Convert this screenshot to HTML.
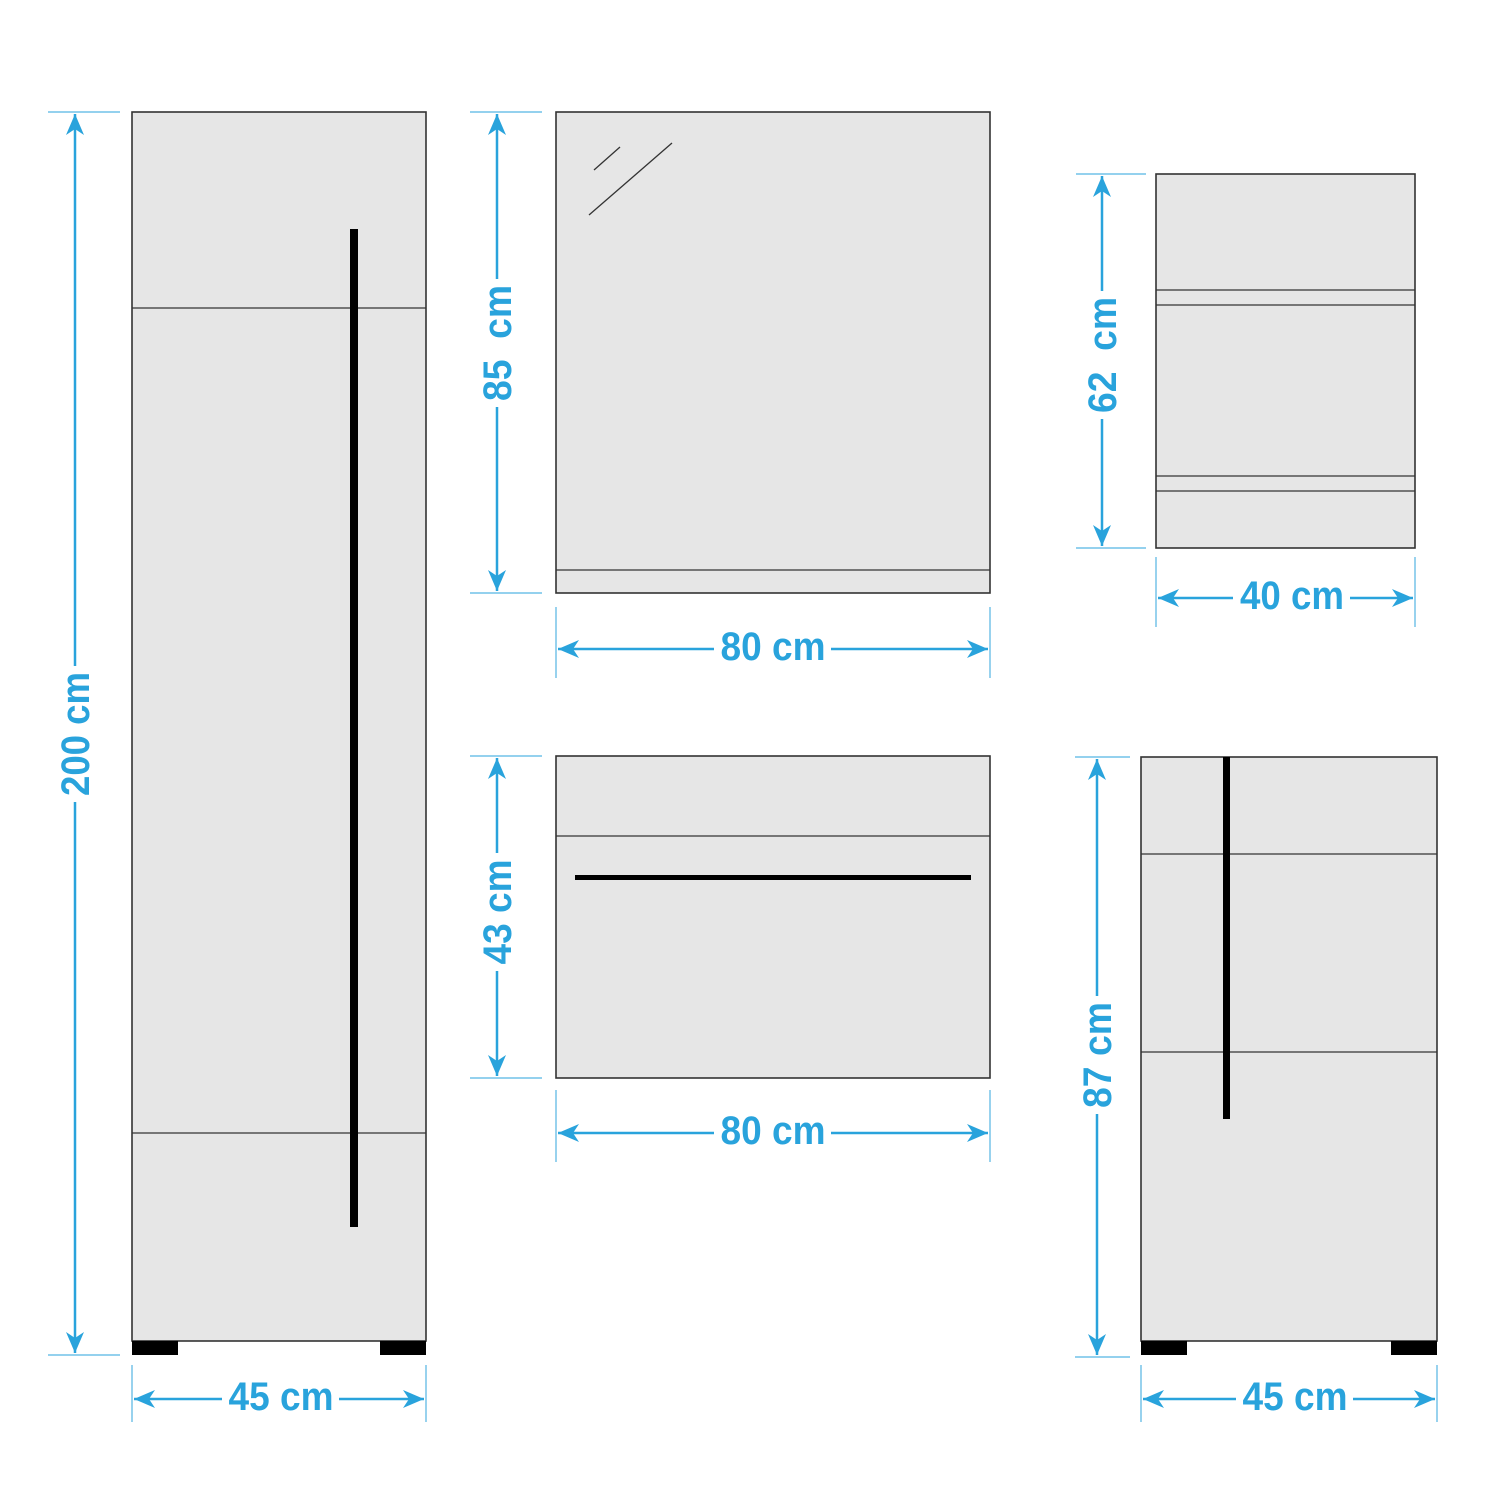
<!DOCTYPE html>
<html><head><meta charset="utf-8"><style>
html,body{margin:0;padding:0;background:#fff;}
svg{display:block;}
.t{font-family:"Liberation Sans",sans-serif;font-weight:bold;font-size:40px;fill:#29a3dc;text-anchor:middle;dominant-baseline:central;}
.w{fill:#fff;}
.d{stroke:#29a3dc;stroke-width:2.5;fill:none;}
.e{stroke:#29a3dc;stroke-width:1.2;fill:none;opacity:.8}
.b{fill:#e6e6e6;stroke:#333;stroke-width:1.6;}
.l{stroke:#333;stroke-width:1.3;}
</style></head><body>
<svg width="1500" height="1500" viewBox="0 0 1500 1500" xmlns="http://www.w3.org/2000/svg">
<defs>
<marker id="a" viewBox="-22 -11 24 22" refX="0" refY="0" markerWidth="24" markerHeight="22" markerUnits="userSpaceOnUse" orient="auto-start-reverse">
<path d="M0,0 L-21,-9 L-15,0 L-21,9 Z" fill="#29a3dc"/>
</marker>
</defs>

<!-- Tall cabinet -->
<rect class="b" x="132" y="112" width="294" height="1229"/>
<line class="l" x1="132" y1="308" x2="426" y2="308"/>
<line class="l" x1="132" y1="1133" x2="426" y2="1133"/>
<rect x="350" y="229" width="8" height="998" fill="#000"/>
<rect x="132" y="1341" width="46" height="14" fill="#000"/>
<rect x="380" y="1341" width="46" height="14" fill="#000"/>
<line class="e" x1="48" y1="112" x2="120" y2="112"/>
<line class="e" x1="48" y1="1355" x2="120" y2="1355"/>
<line class="d" x1="75" y1="114" x2="75" y2="1353" marker-start="url(#a)" marker-end="url(#a)"/>
<g transform="translate(76,734) rotate(-90)"><rect class="w" x="-68" y="-22" width="136" height="44"/><text class="t" x="0" y="0" textLength="124" lengthAdjust="spacingAndGlyphs">200 cm</text></g>
<line class="e" x1="132" y1="1365" x2="132" y2="1422"/>
<line class="e" x1="426" y1="1365" x2="426" y2="1422"/>
<line class="d" x1="134" y1="1399" x2="424" y2="1399" marker-start="url(#a)" marker-end="url(#a)"/>
<rect class="w" x="222" y="1378" width="117" height="42"/>
<text class="t" x="281" y="1397" textLength="105" lengthAdjust="spacingAndGlyphs">45 cm</text>

<!-- Mirror -->
<rect class="b" x="556" y="112" width="434" height="481"/>
<line class="l" x1="556" y1="570" x2="990" y2="570"/>
<line class="l" x1="594" y1="170" x2="620" y2="147"/>
<line class="l" x1="589" y1="215" x2="672" y2="143"/>
<line class="e" x1="470" y1="112" x2="542" y2="112"/>
<line class="e" x1="470" y1="593" x2="542" y2="593"/>
<line class="d" x1="497" y1="114" x2="497" y2="591" marker-start="url(#a)" marker-end="url(#a)"/>
<g transform="translate(498,343) rotate(-90)"><rect class="w" x="-64" y="-22" width="128" height="44"/><text class="t" x="0" y="0" textLength="116" lengthAdjust="spacingAndGlyphs" xml:space="preserve">85  cm</text></g>
<line class="e" x1="556" y1="607" x2="556" y2="678"/>
<line class="e" x1="990" y1="607" x2="990" y2="678"/>
<line class="d" x1="558" y1="649" x2="988" y2="649" marker-start="url(#a)" marker-end="url(#a)"/>
<rect class="w" x="714" y="628" width="117" height="42"/>
<text class="t" x="773" y="647" textLength="105" lengthAdjust="spacingAndGlyphs">80 cm</text>

<!-- Small cabinet -->
<rect class="b" x="1156" y="174" width="259" height="374"/>
<line class="l" x1="1156" y1="290" x2="1415" y2="290"/>
<line class="l" x1="1156" y1="305" x2="1415" y2="305"/>
<line class="l" x1="1156" y1="476" x2="1415" y2="476"/>
<line class="l" x1="1156" y1="491" x2="1415" y2="491"/>
<line class="e" x1="1076" y1="174" x2="1146" y2="174"/>
<line class="e" x1="1076" y1="548" x2="1146" y2="548"/>
<line class="d" x1="1102" y1="176" x2="1102" y2="546" marker-start="url(#a)" marker-end="url(#a)"/>
<g transform="translate(1103,355) rotate(-90)"><rect class="w" x="-64" y="-22" width="128" height="44"/><text class="t" x="0" y="0" textLength="116" lengthAdjust="spacingAndGlyphs" xml:space="preserve">62  cm</text></g>
<line class="e" x1="1156" y1="557" x2="1156" y2="627"/>
<line class="e" x1="1415" y1="557" x2="1415" y2="627"/>
<line class="d" x1="1158" y1="598" x2="1413" y2="598" marker-start="url(#a)" marker-end="url(#a)"/>
<rect class="w" x="1233" y="577" width="117" height="42"/>
<text class="t" x="1292" y="596" textLength="104" lengthAdjust="spacingAndGlyphs">40 cm</text>

<!-- Vanity -->
<rect class="b" x="556" y="756" width="434" height="322"/>
<line class="l" x1="556" y1="836" x2="990" y2="836"/>
<rect x="575" y="875" width="396" height="5" fill="#000"/>
<line class="e" x1="470" y1="756" x2="542" y2="756"/>
<line class="e" x1="470" y1="1078" x2="542" y2="1078"/>
<line class="d" x1="497" y1="758" x2="497" y2="1076" marker-start="url(#a)" marker-end="url(#a)"/>
<g transform="translate(498,912) rotate(-90)"><rect class="w" x="-59" y="-22" width="118" height="44"/><text class="t" x="0" y="0" textLength="105" lengthAdjust="spacingAndGlyphs">43 cm</text></g>
<line class="e" x1="556" y1="1090" x2="556" y2="1162"/>
<line class="e" x1="990" y1="1090" x2="990" y2="1162"/>
<line class="d" x1="558" y1="1133" x2="988" y2="1133" marker-start="url(#a)" marker-end="url(#a)"/>
<rect class="w" x="714" y="1112" width="117" height="42"/>
<text class="t" x="773" y="1131" textLength="105" lengthAdjust="spacingAndGlyphs">80 cm</text>

<!-- Lower cabinet -->
<rect class="b" x="1141" y="757" width="296" height="584"/>
<line class="l" x1="1141" y1="854" x2="1437" y2="854"/>
<line class="l" x1="1141" y1="1052" x2="1437" y2="1052"/>
<rect x="1223" y="757" width="7" height="362" fill="#000"/>
<rect x="1141" y="1341" width="46" height="14" fill="#000"/>
<rect x="1391" y="1341" width="46" height="14" fill="#000"/>
<line class="e" x1="1075" y1="757" x2="1130" y2="757"/>
<line class="e" x1="1075" y1="1357" x2="1130" y2="1357"/>
<line class="d" x1="1097" y1="759" x2="1097" y2="1355" marker-start="url(#a)" marker-end="url(#a)"/>
<g transform="translate(1098,1055) rotate(-90)"><rect class="w" x="-59" y="-22" width="118" height="44"/><text class="t" x="0" y="0" textLength="106" lengthAdjust="spacingAndGlyphs">87 cm</text></g>
<line class="e" x1="1141" y1="1365" x2="1141" y2="1422"/>
<line class="e" x1="1437" y1="1365" x2="1437" y2="1422"/>
<line class="d" x1="1143" y1="1399" x2="1435" y2="1399" marker-start="url(#a)" marker-end="url(#a)"/>
<rect class="w" x="1236" y="1378" width="117" height="42"/>
<text class="t" x="1295" y="1397" textLength="105" lengthAdjust="spacingAndGlyphs">45 cm</text>
</svg>
</body></html>
